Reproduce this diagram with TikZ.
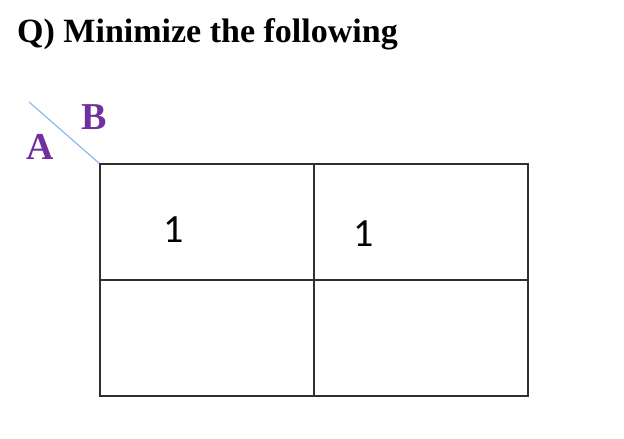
\documentclass[tikz,border=0pt]{standalone}
\usepackage{fontspec}
\setmainfont{Liberation Serif}
\newfontfamily\cellfont{Carlito}
\definecolor{labpurple}{HTML}{7030A0}
\definecolor{diagblue}{HTML}{8DB9EC}
\definecolor{gridgray}{HTML}{303030}
\begin{document}
\begin{tikzpicture}[x=1pt,y=-1pt,
  title/.style={font=\fontsize{34}{40}\selectfont\bfseries, anchor=west, inner sep=0pt},
  varlab/.style={font=\fontsize{38}{44}\selectfont\bfseries, text=labpurple, inner sep=0pt},
  cellval/.style={font=\cellfont\fontsize{40}{46}\selectfont, inner sep=0pt},
  gridline/.style={draw=gridgray, line width=1.2pt}]
\useasboundingbox (0,0) rectangle (624,439);
\node[title] (t) at (17,34) {Q) Minimize the following};
\coordinate (d0) at (29,102);
\coordinate (d1) at (100,164);
\draw[diagblue, line width=1.2pt] (d0) -- (d1);
\node[varlab] (b) at (94,117) {B};
\node[varlab] (a) at (40,147) {A};
\coordinate (tl) at (100,164);
\coordinate (br) at (528,396);
\draw[gridline] (tl) rectangle (br);
\coordinate (vt) at (314,164);
\coordinate (vb) at (314,396);
\coordinate (hl) at (100,280);
\coordinate (hr) at (528,280);
\draw[gridline] (vt) -- (vb);
\draw[gridline] (hl) -- (hr);
\node[cellval] (c1) at (174,230) {1};
\node[cellval] (c2) at (363.5,233.5) {1};
\end{tikzpicture}
\end{document}
